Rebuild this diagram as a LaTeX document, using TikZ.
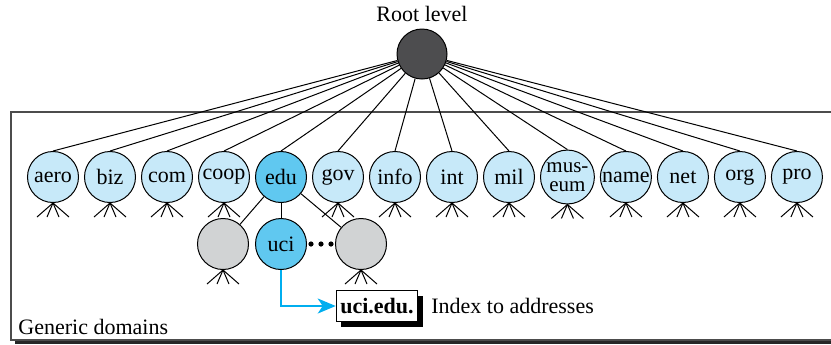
\documentclass[tikz,border=0pt]{standalone}
\usepackage{fontspec}
\setmainfont{Liberation Serif}[Ligatures=TeX]
\usepackage{xcolor}
\usetikzlibrary{arrows.meta,positioning,shadows}

\definecolor{tldfill}{RGB}{199,233,249}
\definecolor{edufill}{RGB}{96,200,240}
\definecolor{hostgray}{RGB}{209,211,212}
\definecolor{rootgray}{RGB}{77,77,79}
\definecolor{arrowblue}{RGB}{0,174,239}

\begin{document}
\begin{tikzpicture}[
  x=0.5pt, y=-0.5pt,
  font=\rmfamily\fontsize{11}{11}\selectfont,
  tld/.style={circle, draw, line width=0.5pt, fill=tldfill, minimum size=25.5pt, inner sep=0.5pt},
  picked/.style={tld, fill=edufill},
  host/.style={tld, fill=hostgray},
  rootnode/.style={circle, draw, line width=0.5pt, fill=rootgray, minimum size=25pt},
  link/.style={line width=0.5pt},
  namebox/.style={draw, line width=0.6pt, fill=white, font=\rmfamily\bfseries\fontsize{11}{11}\selectfont, minimum width=39pt, minimum height=15.5pt, inner sep=2pt, drop shadow={shadow xshift=2.5pt, shadow yshift=-2.5pt, fill=black, opacity=1}},
  region/.style={draw=black!70, line width=0.8pt, fill=white, drop shadow={shadow xshift=2pt, shadow yshift=-2pt, fill=black!85, opacity=1}},
  >={Stealth[length=9pt, width=7.5pt, inset=2.5pt]}
]
\useasboundingbox (0,0) rectangle (831,344);
\clip (0,0) rectangle (831,344);

% Generic domains frame
\node[region, anchor=north west, minimum width=420pt, minimum height=114pt] (generic) at (10,111) {};
\node[anchor=base west, inner sep=0pt] (genericlabel) at ([xshift=4pt, yshift=3pt]generic.south west) {Generic domains};

% Root
\node[rootnode] (root) at (422,54) {};
\node[above=0pt of root] (rootlabel) {Root level};

% Top-level domains
\node[tld] (aero) at (53,177) {aero};
\node[tld, right=2.5pt of aero] (biz) {biz};
\node[tld, right=2.5pt of biz] (com) {com};
\node[tld, right=2.5pt of com] (coop) {coop};
\node[picked, right=2.5pt of coop] (edu) {edu};
\node[tld, right=2.5pt of edu] (gov) {gov};
\node[tld, right=2.5pt of gov] (info) {info};
\node[tld, right=2.5pt of info] (int) {int};
\node[tld, right=2.5pt of int] (mil) {mil};
\node[tld, right=2.5pt of mil, align=center, font=\rmfamily\fontsize{10.5}{9.5}\selectfont] (museum) {mus-\\eum};
\node[tld, right=2.5pt of museum] (name) {name};
\node[tld, right=2.5pt of name] (net) {net};
\node[tld, right=2.5pt of net] (org) {org};
\node[tld, right=2.5pt of org] (pro) {pro};

\foreach \n in {aero,biz,com,coop,edu,gov,info,int,mil,museum,name,net,org,pro}
  \draw[link] (root) -- (\n.north);

% Second level under edu
\node[picked, below=7.5pt of edu] (uci) {uci};
\node[host, left=3pt of uci] (hostl) {};
\node[host, right=14pt of uci] (hostr) {};
\draw[link] (edu) -- (hostl);
\draw[link] (edu) -- (uci);
\draw[link] (edu) -- (hostr);
\path (uci) -- (hostr) coordinate[midway] (dots);
\foreach \dx in {-10,0,10}
  \fill ([xshift=\dx*0.5pt]dots) circle (1.3pt);

% Subtrees
\foreach \n in {aero,biz,com,coop,gov,info,int,mil,museum,name,net,org,pro,hostl,hostr}
  \foreach \dx in {-16,-6,6,16}
    \draw[link] (\n.south) -- ++(\dx,14);

% Index
\node[namebox] (ucibox) at (377,306) {uci.edu.};
\node[right=3pt of ucibox] (index) {Index to addresses};
\draw[->, arrowblue, line width=1pt] (uci.south) |- (ucibox.west);
\end{tikzpicture}
\end{document}
